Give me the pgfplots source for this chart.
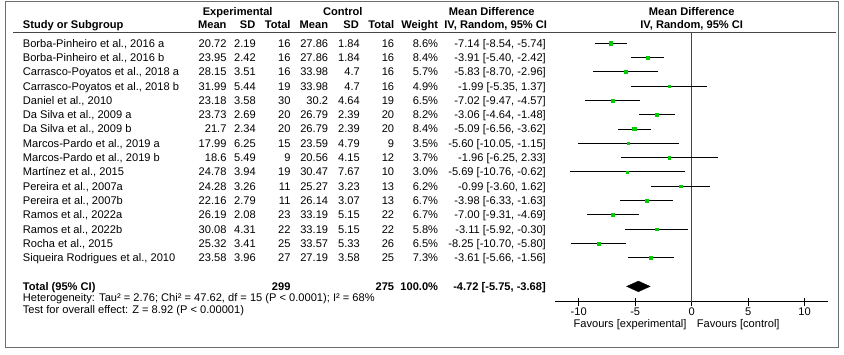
\documentclass[border=0pt]{standalone}
\usepackage{pgfplots}
\pgfplotsset{compat=1.18}
\usepackage{pgfplotstable}
\usepackage{fontspec}
\setmainfont{Liberation Sans}
\definecolor{mkgreen}{RGB}{0,204,0}
\definecolor{bordergray}{RGB}{105,110,115}
\definecolor{linegray}{RGB}{70,70,70}
\newcommand{\fs}{\fontsize{11.1}{13}\selectfont}

\pgfplotstableread{
row md lo hi w
1 -7.14 -8.54 -5.74 8.6
2 -3.91 -5.40 -2.42 8.4
3 -5.83 -8.70 -2.96 5.7
4 -1.99 -5.35 1.37 4.9
5 -7.02 -9.47 -4.57 6.5
6 -3.06 -4.64 -1.48 8.2
7 -5.09 -6.56 -3.62 8.4
8 -5.60 -10.05 -1.15 3.5
9 -1.96 -6.25 2.33 3.7
10 -5.69 -10.76 -0.62 3.0
11 -0.99 -3.60 1.62 6.2
12 -3.98 -6.33 -1.63 6.7
13 -7.00 -9.31 -4.69 6.7
14 -3.11 -5.92 -0.30 5.8
15 -8.25 -10.70 -5.80 6.5
16 -3.61 -5.66 -1.56 7.3
}\forestdata

% row i: name, exp mean, sd, n, ctl mean, sd, n, weight
\newcommand{\srow}[9]{%
  \pgfmathsetmacro\yy{-(47.1+(#1-1)*14.3)}%
  \node[anchor=base west] at (22.7,\yy) {#2};
  \node[anchor=base east] at (226.7,\yy) {#3};
  \node[anchor=base east] at (256,\yy) {#4};
  \node[anchor=base east] at (290.7,\yy) {#5};
  \node[anchor=base east] at (328.3,\yy) {#6};
  \node[anchor=base east] at (360,\yy) {#7};
  \node[anchor=base east] at (394.3,\yy) {#8};
  \node[anchor=base east] at (438.3,\yy) {#9};
}
\newcommand{\crow}[2]{%
  \pgfmathsetmacro\yy{-(47.1+(#1-1)*14.3)}%
  \node[anchor=base east] at (546,\yy) {#2};
}

\begin{document}
\begin{tikzpicture}[x=1pt,y=1pt,every node/.style={inner sep=0pt,font=\fs}]
\useasboundingbox (0,0) rectangle (844,-354);
\coordinate (axpos) at (555,-301.7);
\draw[bordergray,line width=1pt] (5,-1.5) rectangle (838.5,-347);
\draw[linegray,line width=0.9pt] (13,-32.7) -- (836,-32.7);

% headers
\begin{scope}[every node/.append style={font=\fs\bfseries}]
\node[anchor=base] at (237.7,-15.5) {Experimental};
\node[anchor=base] at (342.8,-15.5) {Control};
\node[anchor=base] at (491.8,-15.5) {Mean Difference};
\node[anchor=base] at (691.7,-15.5) {Mean Difference};
\node[anchor=base west] at (22.7,-28.8) {Study or Subgroup};
\node[anchor=base east] at (226.7,-28.8) {Mean};
\node[anchor=base east] at (255.5,-28.8) {SD};
\node[anchor=base east] at (290.7,-28.8) {Total};
\node[anchor=base east] at (328.3,-28.8) {Mean};
\node[anchor=base east] at (359,-28.8) {SD};
\node[anchor=base east] at (394.3,-28.8) {Total};
\node[anchor=base east] at (438.3,-28.8) {Weight};
\node[anchor=base] at (495.7,-28.8) {IV, Random, 95\% CI};
\node[anchor=base] at (691.7,-28.8) {IV, Random, 95\% CI};
% total row
\node[anchor=base west] at (22.7,-290.2) {Total (95\% CI)};
\node[anchor=base east] at (290.7,-290.2) {299};
\node[anchor=base east] at (394.3,-290.2) {275};
\node[anchor=base east] at (438.3,-290.2) {100.0\%};
\node[anchor=base east] at (546,-290.2) {-4.72 [-5.75, -3.68]};
\end{scope}

\srow{1}{Borba-Pinheiro et al., 2016 a}{20.72}{2.19}{16}{27.86}{1.84}{16}{8.6\%}
\srow{2}{Borba-Pinheiro et al., 2016 b}{23.95}{2.42}{16}{27.86}{1.84}{16}{8.4\%}
\srow{3}{Carrasco-Poyatos et al., 2018 a}{28.15}{3.51}{16}{33.98}{4.7}{16}{5.7\%}
\srow{4}{Carrasco-Poyatos et al., 2018 b}{31.99}{5.44}{19}{33.98}{4.7}{16}{4.9\%}
\srow{5}{Daniel et al., 2010}{23.18}{3.58}{30}{30.2}{4.64}{19}{6.5\%}
\srow{6}{Da Silva et al., 2009 a}{23.73}{2.69}{20}{26.79}{2.39}{20}{8.2\%}
\srow{7}{Da Silva et al., 2009 b}{21.7}{2.34}{20}{26.79}{2.39}{20}{8.4\%}
\srow{8}{Marcos-Pardo et al., 2019 a}{17.99}{6.25}{15}{23.59}{4.79}{9}{3.5\%}
\srow{9}{Marcos-Pardo et al., 2019 b}{18.6}{5.49}{9}{20.56}{4.15}{12}{3.7\%}
\srow{10}{Martínez et al., 2015}{24.78}{3.94}{19}{30.47}{7.67}{10}{3.0\%}
\srow{11}{Pereira et al., 2007a}{24.28}{3.26}{11}{25.27}{3.23}{13}{6.2\%}
\srow{12}{Pereira et al., 2007b}{22.16}{2.79}{11}{26.14}{3.07}{13}{6.7\%}
\srow{13}{Ramos et al., 2022a}{26.19}{2.08}{23}{33.19}{5.15}{22}{6.7\%}
\srow{14}{Ramos et al., 2022b}{30.08}{4.31}{22}{33.19}{5.15}{22}{5.8\%}
\srow{15}{Rocha et al., 2015}{25.32}{3.41}{25}{33.57}{5.33}{26}{6.5\%}
\srow{16}{Siqueira Rodrigues et al., 2010}{23.58}{3.96}{27}{27.19}{3.58}{25}{7.3\%}

\crow{1}{-7.14 [-8.54, -5.74]}
\crow{2}{-3.91 [-5.40, -2.42]}
\crow{3}{-5.83 [-8.70, -2.96]}
\crow{4}{-1.99 [-5.35, 1.37]}
\crow{5}{-7.02 [-9.47, -4.57]}
\crow{6}{-3.06 [-4.64, -1.48]}
\crow{7}{-5.09 [-6.56, -3.62]}
\crow{8}{-5.60 [-10.05, -1.15]}
\crow{9}{-1.96 [-6.25, 2.33]}
\crow{10}{-5.69 [-10.76, -0.62]}
\crow{11}{-0.99 [-3.60, 1.62]}
\crow{12}{-3.98 [-6.33, -1.63]}
\crow{13}{-7.00 [-9.31, -4.69]}
\crow{14}{-3.11 [-5.92, -0.30]}
\crow{15}{-8.25 [-10.70, -5.80]}
\crow{16}{-3.61 [-5.66, -1.56]}

\node[anchor=base west] at (22.7,-301.1) {Heterogeneity: Tau² = 2.76; Chi² = 47.62, df = 15 (P < 0.0001); I² = 68\%};
\node[anchor=base west] at (22.7,-313.8) {Test for overall effect: Z = 8.92 (P < 0.00001)};
\node[anchor=base east] at (686.7,-327.1) {Favours [experimental]};
\node[anchor=base west] at (696.7,-327.1) {Favours [control]};

\begin{axis}[
  at={(axpos)}, anchor=south west,
  scale only axis, width=273.3pt, height=269pt,
  xmin=-12.1, xmax=12.1, ymin=-19.07, ymax=-0.26,
  axis x line=bottom, axis y line=none,
  axis line style={-, black, line width=0.8pt},
  xtick={-10,-5,0,5,10}, xtick align=center, major tick length=8pt,
  tick style={black, line width=0.8pt},
  xticklabel style={font=\fs, inner sep=0pt, yshift=-2pt},
  /pgf/number format/assume math mode=true,
  clip=false,
]
\addplot[linegray, line width=0.8pt, forget plot] coordinates {(0,-0.26) (0,-19.07)};
\addplot[draw=none, mark=none, forget plot,
  error bars/.cd, x dir=both, x explicit, error mark=none,
  error bar style={draw=black, line width=1pt}]
  table[x=md, y expr=-\thisrow{row},
        x error plus expr=\thisrow{hi}-\thisrow{md},
        x error minus expr=\thisrow{md}-\thisrow{lo}] {\forestdata};
\addplot[scatter, only marks, mark=square*, forget plot,
  scatter/use mapped color={draw=mkgreen, fill=mkgreen},
  visualization depends on={0.55*sqrt(\thisrow{w}) \as \ms},
  scatter/@pre marker code/.append style={/tikz/mark size=\ms}]
  table[x=md, y expr=-\thisrow{row}] {\forestdata};
\addplot[fill=black, draw=black, forget plot] coordinates
  {(-5.75,-18) (-4.72,-17.63) (-3.68,-18) (-4.72,-18.37)} -- cycle;
\end{axis}
\end{tikzpicture}
\end{document}
